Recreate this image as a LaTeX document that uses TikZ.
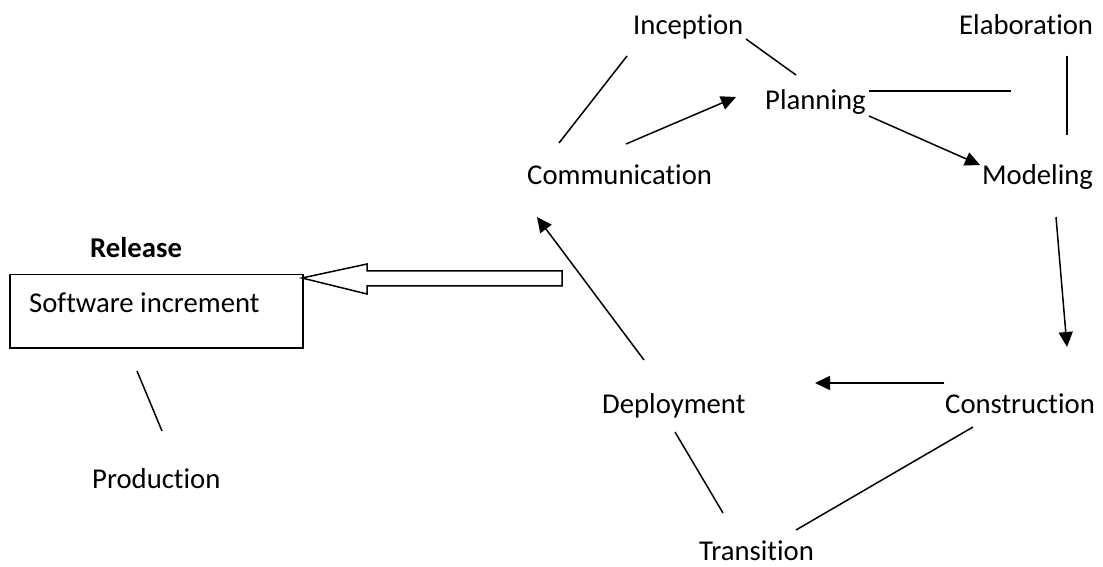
\documentclass[tikz,border=0pt]{standalone}
\usepackage{fontspec}
\setmainfont{Carlito}[RawFeature={-liga,-clig,-dlig}]
\usetikzlibrary{arrows.meta}
\tikzset{
  lbl/.style={anchor=base west, inner sep=0pt, font=\fontsize{28.7bp}{34bp}\selectfont},
  ln/.style={line width=1.5bp, draw=black},
  arr/.style={ln, -{Triangle[length=15bp,width=14bp]}},
  boxstyle/.style={draw=black, line width=1.5bp, anchor=north west, inner sep=0pt, minimum width=293bp, minimum height=73bp},
  hollow/.style={draw=black, line width=1.5bp, fill=white, line join=miter}
}
\begin{document}
\begin{tikzpicture}[x=1bp,y=-1bp]
\useasboundingbox[fill=white] (0,0) rectangle (1103,567);
% text nodes
\node[lbl] (inception) at (633,35) {Inception};
\node[lbl] (elaboration) at (959,35) {Elaboration};
\node[lbl] (planning) at (765,110) {Planning};
\node[lbl] (communication) at (527,185) {Communication};
\node[lbl] (modeling) at (982,185) {Modeling};
\node[lbl, font=\fontsize{28.7bp}{34bp}\selectfont\bfseries] (release) at (90,258) {Release};
\node[boxstyle] (box) at (9,274) {};
\node[lbl] (software) at (29,313) {Software increment};
\node[lbl] (production) at (92,488) {Production};
\node[lbl] (deployment) at (602,413) {Deployment};
\node[lbl] (construction) at (945,413) {Construction};
\node[lbl] (transition) at (699,560) {Transition};
% connector end points
\coordinate (ci-a) at (559,143); \coordinate (ci-b) at (627,56);
\coordinate (ip-a) at (746,39); \coordinate (ip-b) at (796,75);
\coordinate (cp-a) at (626,144); \coordinate (cp-b) at (736,97);
\coordinate (pe-a) at (869,91); \coordinate (pe-b) at (1011,91);
\coordinate (em-a) at (1067,56); \coordinate (em-b) at (1067,135);
\coordinate (pm-a) at (869,116); \coordinate (pm-b) at (980,165);
\coordinate (mc-a) at (1056,217); \coordinate (mc-b) at (1067,347);
\coordinate (cd-a) at (944,383); \coordinate (cd-b) at (815,383);
\coordinate (dc-a) at (644,360); \coordinate (dc-b) at (537,217);
\coordinate (dt-a) at (675,432); \coordinate (dt-b) at (723,513);
\coordinate (ct-a) at (973,427); \coordinate (ct-b) at (796,530);
\coordinate (sp-a) at (137,371); \coordinate (sp-b) at (162,431);
% plain lines
\draw[ln] (ci-a) -- (ci-b);
\draw[ln] (ip-a) -- (ip-b);
\draw[ln] (pe-a) -- (pe-b);
\draw[ln] (em-a) -- (em-b);
\draw[ln] (dt-a) -- (dt-b);
\draw[ln] (ct-a) -- (ct-b);
\draw[ln] (sp-a) -- (sp-b);
% arrows
\draw[arr] (cp-a) -- (cp-b);
\draw[arr] (pm-a) -- (pm-b);
\draw[arr] (mc-a) -- (mc-b);
\draw[arr] (cd-a) -- (cd-b);
\draw[arr] (dc-a) -- (dc-b);
% hollow release arrow
\coordinate (rel-tip) at (302,278);
\draw[hollow] (rel-tip) -- (367,264) -- (367,271) -- (562,271) -- (562,286) -- (367,286) -- (367,294) -- cycle;
\end{tikzpicture}
\end{document}
